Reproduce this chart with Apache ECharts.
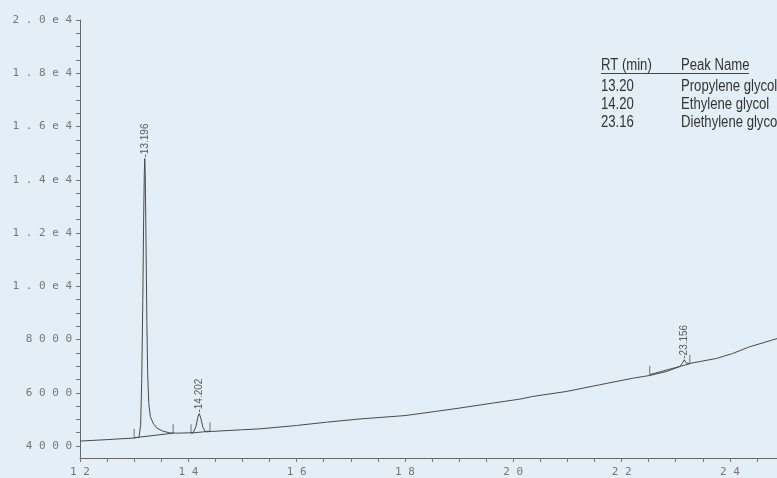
<!DOCTYPE html>
<html>
<head>
<meta charset="utf-8">
<script src="https://cdn.jsdelivr.net/npm/echarts@6/dist/echarts.min.js"></script>
<style>
	html, body { margin: 0; padding: 0; background: #e3eef6; }
	#chromatogram { width: 777px; height: 478px; }
</style>
</head>
<body>
<div id="chromatogram"></div>
<script>
// 保留时间 (min) 与检测器信号
var times = [12.00, 12.50, 13.00, 13.09, 13.12, 13.14, 13.16, 13.175, 13.188, 13.196, 13.205, 13.22, 13.235, 13.25, 13.27, 13.30, 13.35, 13.42, 13.53, 13.66, 13.80, 14.00, 14.09, 14.14, 14.18, 14.202, 14.23, 14.27, 14.32, 14.42, 15.00, 15.32, 16.00, 16.55, 17.17, 18.00, 18.58, 19.01, 19.62, 20.12, 20.36, 20.98, 21.59, 22.20, 22.52, 22.82, 23.07, 23.12, 23.156, 23.20, 23.26, 23.75, 24.05, 24.36, 24.87];
var signal = [4186, 4240, 4300, 4330, 4800, 6500, 9500, 12500, 14300, 14800, 14200, 11500, 8600, 6700, 5600, 5100, 4860, 4670, 4560, 4490, 4484, 4495, 4500, 4720, 5120, 5220, 5050, 4700, 4530, 4547, 4610, 4644, 4771, 4894, 5017, 5143, 5303, 5426, 5612, 5761, 5862, 6048, 6298, 6543, 6650, 6793, 6979, 7100, 7240, 7110, 7102, 7288, 7474, 7724, 8033];

// 峰标注
var peakTimes = [13.196, 14.202, 23.156];
var peakHeights = [14800, 5220, 7240];

// 积分起止标记
var markerTimes = [13.00, 13.72, 14.05, 14.40, 22.52, 23.26];
var markerLevels = [4309, 4484, 4484, 4559, 6681, 7091];

// 坐标轴刻度
var yLabels = [4000, 6000, 8000, 10000, 12000, 14000, 16000, 18000, 20000];
var xLabels = [12, 14, 16, 18, 20, 22, 24];

// 右上角峰表
var tableRT = ['13.20', '14.20', '23.16'];
var tableNames = ['Propylene glycol', 'Ethylene glycol', 'Diethylene glycol'];

var yTicks = [];
for (var v = 4000; v <= 20000; v += 500) yTicks.push(v);
var xTicks = [];
for (var t = 12; t <= 24.5; t += 0.5) xTicks.push(t);

function spaced(s) {
	return String(s).split('').join(' ');
}
function yFormat(value) {
	if (value >= 10000) return spaced((value / 10000).toFixed(1) + 'e4');
	return spaced(value);
}

var signalData = [];
for (var i = 0; i < times.length; i++) signalData.push([times[i], signal[i]]);

var peakData = [];
for (var i = 0; i < peakTimes.length; i++) peakData.push([peakTimes[i], peakHeights[i]]);

var markerData = [];
var baseData = [];
for (var i = 0; i < markerTimes.length; i++) {
	markerData.push([markerTimes[i], markerLevels[i]]);
	baseData.push([markerTimes[i], markerLevels[i]]);
	if (i % 2 == 1) baseData.push([markerTimes[i], '-']);
}

// 窄体字: 用横向缩放模拟
var tableFont = '16px "Liberation Sans", Arial, sans-serif';
function tableText(txt, x, y) {
	return {
		type: 'text', x: x, y: y, scaleX: 0.82,
		style: { text: txt, font: tableFont, fill: '#333', textVerticalAlign: 'middle' }
	};
}
var graphics = [
	tableText('RT (min)', 601, 66),
	tableText('Peak Name', 681, 66),
	{ type: 'line', shape: { x1: 601, y1: 73.5, x2: 749, y2: 73.5 }, style: { stroke: '#444', lineWidth: 1 } }
];
for (var i = 0; i < tableRT.length; i++) {
	graphics.push(tableText(tableRT[i], 601, 87 + i * 17.7));
	graphics.push(tableText(tableNames[i], 681, 87 + i * 17.7));
}

var myChart = echarts.init(document.getElementById('chromatogram'));

var option = {
	backgroundColor: '#e3eef6',
	animation: false,
	grid: { left: 80, right: 0, top: 20, bottom: 16 },
	xAxis: {
		type: 'value',
		min: 12,
		max: 24.87,
		axisLine: { lineStyle: { color: '#666', width: 1 } },
		axisTick: { show: true, length: 4, customValues: xTicks, lineStyle: { color: '#777' } },
		axisLabel: {
			customValues: xLabels,
			margin: 9,
			fontFamily: 'DejaVu Sans Mono',
			fontSize: 11,
			color: '#777',
			formatter: function (value) { return spaced(value); }
		},
		splitLine: { show: false }
	},
	yAxis: {
		type: 'value',
		min: 3550,
		max: 20000,
		axisLine: { show: true, lineStyle: { color: '#666', width: 1 } },
		axisTick: { show: true, length: 4, customValues: yTicks, lineStyle: { color: '#777' } },
		axisLabel: {
			customValues: yLabels,
			margin: 8,
			fontFamily: 'DejaVu Sans Mono',
			fontSize: 11,
			color: '#777',
			formatter: yFormat
		},
		splitLine: { show: false }
	},
	graphic: graphics,
	series: [
		{
			name: 'signal',
			type: 'line',
			data: signalData,
			symbol: 'none',
			lineStyle: { color: '#4a4a4a', width: 1 }
		},
		{
			name: 'baseline',
			type: 'line',
			data: baseData,
			symbol: 'none',
			connectNulls: false,
			lineStyle: { color: '#4a4a4a', width: 1 }
		},
		{
			name: 'markers',
			type: 'scatter',
			data: markerData,
			symbol: 'rect',
			symbolSize: [1, 9],
			symbolOffset: [0, '-50%'],
			itemStyle: { color: '#555' }
		},
		{
			name: 'peaks',
			type: 'scatter',
			data: peakData,
			symbolSize: 0,
			label: {
				show: true,
				position: 'top',
				distance: 1,
				rotate: 90,
				align: 'left',
				verticalAlign: 'middle',
				fontFamily: '"Liberation Sans", Arial, sans-serif',
				fontSize: 10,
				color: '#333',
				formatter: function (p) { return '-' + p.value[0].toFixed(3); }
			}
		}
	]
};

myChart.setOption(option);
</script>
</body>
</html>
